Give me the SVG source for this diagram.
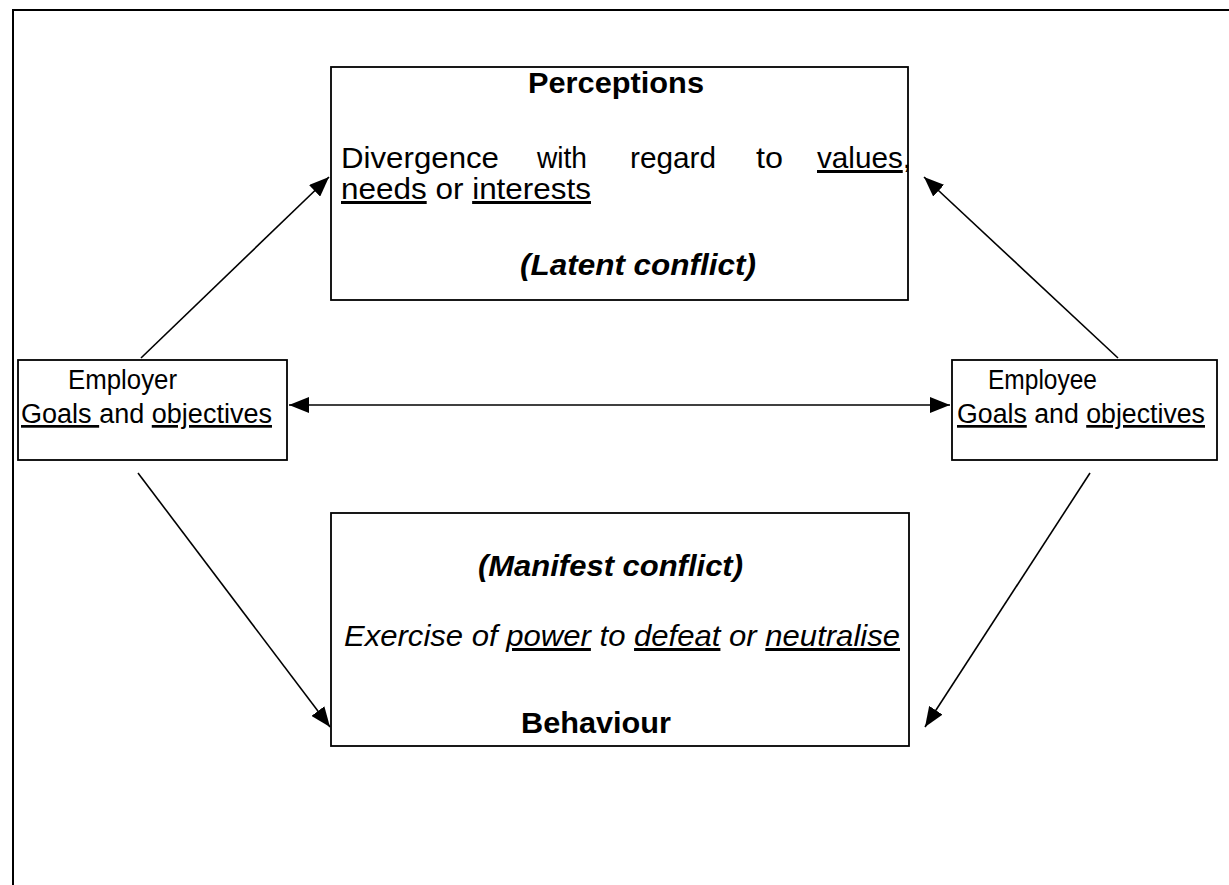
<svg xmlns="http://www.w3.org/2000/svg" width="1229" height="885" viewBox="0 0 1229 885">
<style>
.box{fill:#fff;stroke:#000;stroke-width:1.8}
.frame{fill:none;stroke:#000;stroke-width:2}
.t{font-family:"Liberation Sans",Arial,sans-serif;fill:#000}
.n{font-size:30px}
.b{font-size:30px;font-weight:bold}
.bi{font-size:30px;font-weight:bold;font-style:italic}
.i{font-size:30px;font-style:italic}
.s{font-size:27px}
.u{text-decoration:underline}
.c{stroke:#000;stroke-width:1.6;fill:none}
</style>
<defs>
<marker id="ah" markerUnits="userSpaceOnUse" markerWidth="22" markerHeight="16" refX="20" refY="8" orient="auto-start-reverse">
<path d="M0,0 L20,8 L0,16 Z" fill="#000"/>
</marker>
</defs>
<rect width="1229" height="885" fill="#fff"/>
<path class="frame" d="M13,885 L13,10 L1229,10"/>
<g id="connectors">
<line class="c" x1="141" y1="358" x2="329" y2="177" marker-end="url(#ah)"/>
<line class="c" x1="1118" y1="358" x2="924" y2="177" marker-end="url(#ah)"/>
<line class="c" x1="289" y1="405" x2="950" y2="405" marker-start="url(#ah)" marker-end="url(#ah)"/>
<line class="c" x1="138" y1="473" x2="330" y2="727" marker-end="url(#ah)"/>
<line class="c" x1="1090" y1="473" x2="925" y2="727" marker-end="url(#ah)"/>
</g>
<g id="perceptions">
<rect class="box" x="331" y="67" width="577" height="233"/>
<text class="t b" x="528" y="93" textLength="176" lengthAdjust="spacingAndGlyphs">Perceptions</text>
<text class="t n" x="341" y="168" textLength="158" lengthAdjust="spacingAndGlyphs">Divergence</text>
<text class="t n" x="537" y="168" textLength="50" lengthAdjust="spacingAndGlyphs">with</text>
<text class="t n" x="630" y="168" textLength="86" lengthAdjust="spacingAndGlyphs">regard</text>
<text class="t n" x="756" y="168" textLength="27" lengthAdjust="spacingAndGlyphs">to</text>
<text class="t n" x="817" y="168" textLength="94" lengthAdjust="spacingAndGlyphs"><tspan class="u">values</tspan>,</text>
<text class="t n" x="341" y="199" textLength="250" lengthAdjust="spacingAndGlyphs"><tspan class="u">needs</tspan> or <tspan class="u">interests</tspan></text>
<text class="t bi" x="520" y="275" textLength="236" lengthAdjust="spacingAndGlyphs">(Latent conflict)</text>
</g>
<g id="employer">
<rect class="box" x="18" y="360" width="269" height="100"/>
<text class="t s" x="68" y="389" textLength="109" lengthAdjust="spacingAndGlyphs">Employer</text>
<text class="t s" x="21" y="423" textLength="251" lengthAdjust="spacingAndGlyphs"><tspan class="u">Goals </tspan>and <tspan class="u">objectives</tspan></text>
</g>
<g id="employee">
<rect class="box" x="952" y="360" width="265" height="100"/>
<text class="t s" x="988" y="389" textLength="109" lengthAdjust="spacingAndGlyphs">Employee</text>
<text class="t s" x="957" y="423" textLength="248" lengthAdjust="spacingAndGlyphs"><tspan class="u">Goals</tspan> and <tspan class="u">objectives</tspan></text>
</g>
<g id="behaviour">
<rect class="box" x="331" y="513" width="578" height="233"/>
<text class="t bi" x="478" y="576" textLength="265" lengthAdjust="spacingAndGlyphs">(Manifest conflict)</text>
<text class="t i" x="344" y="646" textLength="556" lengthAdjust="spacingAndGlyphs">Exercise of <tspan class="u">power</tspan> to <tspan class="u">defeat</tspan> or <tspan class="u">neutralise</tspan></text>
<text class="t b" x="521" y="733" textLength="150" lengthAdjust="spacingAndGlyphs">Behaviour</text>
</g>
</svg>
